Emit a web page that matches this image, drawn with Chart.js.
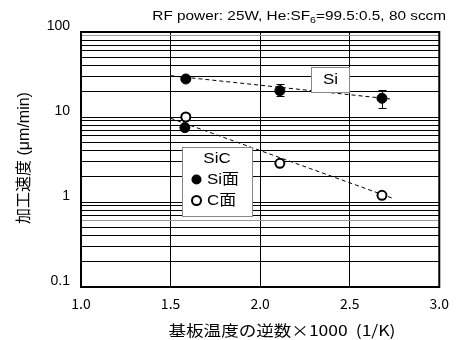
<!DOCTYPE html>
<html>
<head>
<meta charset="utf-8">
<script src="https://cdn.jsdelivr.net/npm/chart.js@4"></script>
<style>
  html, body { margin: 0; padding: 0; background: #fff; }
  #wrap { width: 457px; height: 340px; position: relative; }
</style>
</head>
<body>
<div id="wrap"><canvas id="chart-etch"></canvas></div>
<script>
// --- data ---
const siTemp = [1.585, 2.11, 2.68];
const siRate = [28, 20.4, 16.6];
const siErrHigh = [null, 24.3, 20.8];
const siErrLow = [null, 17.7, 12.8];

const sicSiTemp = [1.58];
const sicSiRate = [7.5];

const sicCTemp = [1.585, 2.11, 2.68];
const sicCRate = [10, 2.85, 1.2];

const siFitTemp = [1.5, 2.725];
const siFitRate = [30.6, 16.3];
const sicFitTemp = [1.5, 2.743];
const sicFitRate = [9.66, 1.1];

const yTickLabels = [0.1, 1, 10, 100];
const xTickLabels = [1.0, 1.5, 2.0, 2.5, 3.0];

const pts = (xs, ys) => xs.map((x, i) => ({ x, y: ys[i] }));

// log minor gridlines 1..9 per decade
const yGrid = [];
[0.1, 1, 10].forEach(d => { for (let m = 1; m <= 9; m++) yGrid.push(d * m); });
yGrid.push(100);

const CJK = '"Noto Sans CJK JP", "Noto Sans", sans-serif';
const LATIN = '"Liberation Sans", Arial, sans-serif';
const MIXED = '"Liberation Sans", "Noto Sans CJK JP", sans-serif';
const SX = 1.13; // reference text is a bit wide

function wideText(ctx, text, x, y, sx) {
  ctx.save();
  ctx.translate(x, y);
  ctx.scale(sx, 1);
  ctx.fillText(text, 0, 0);
  ctx.restore();
}

const overlay = {
  id: 'overlay',
  beforeDatasetsDraw(chart) {
    const { ctx, scales: { x, y } } = chart;
    ctx.save();
    ctx.strokeStyle = '#000';
    ctx.lineWidth = 1;
    siTemp.forEach((t, i) => {
      if (siErrHigh[i] == null) return;
      const px = Math.round(x.getPixelForValue(t)) + 0.5;
      const top = Math.round(y.getPixelForValue(siErrHigh[i])) + 0.5;
      const bot = Math.round(y.getPixelForValue(siErrLow[i])) + 0.5;
      ctx.beginPath();
      ctx.moveTo(px, top); ctx.lineTo(px, bot);
      ctx.moveTo(px - 4, top); ctx.lineTo(px + 4, top);
      ctx.moveTo(px - 4, bot); ctx.lineTo(px + 4, bot);
      ctx.stroke();
    });
    ctx.restore();
  },
  afterDatasetsDraw(chart) {
    const { ctx } = chart;
    ctx.save();
    // "Si" label box
    ctx.fillStyle = '#fff';
    ctx.strokeStyle = '#888';
    ctx.lineWidth = 1;
    ctx.fillRect(311.5, 67.5, 38, 25);
    ctx.strokeRect(311.5, 67.5, 38, 25);
    ctx.fillStyle = '#000';
    ctx.font = '15px ' + LATIN;
    ctx.textAlign = 'center';
    ctx.textBaseline = 'middle';
    wideText(ctx, 'Si', 330.5, 80, SX);

    // SiC legend box
    ctx.fillStyle = '#fff';
    ctx.fillRect(182.5, 147.5, 70, 69);
    ctx.strokeRect(182.5, 147.5, 70, 69);
    ctx.fillStyle = '#000';
    wideText(ctx, 'SiC', 217, 158.5, SX);
    ctx.beginPath();
    ctx.arc(196.5, 179.5, 5, 0, Math.PI * 2);
    ctx.fill();
    ctx.beginPath();
    ctx.arc(196.5, 200.5, 4.5, 0, Math.PI * 2);
    ctx.fillStyle = '#fff';
    ctx.fill();
    ctx.lineWidth = 2;
    ctx.strokeStyle = '#000';
    ctx.stroke();
    ctx.fillStyle = '#000';
    ctx.textAlign = 'left';
    ctx.font = '15px ' + MIXED;
    wideText(ctx, 'Si面', 207, 180, SX);
    wideText(ctx, 'C面', 207, 201, SX);
    ctx.restore();
  },
  afterDraw(chart) {
    const { ctx, chartArea: a } = chart;
    ctx.save();
    ctx.strokeStyle = '#000';
    ctx.lineWidth = 2;
    ctx.strokeRect(a.left, a.top, a.right - a.left, a.bottom - a.top);

    // header text with subscript
    ctx.fillStyle = '#000';
    ctx.textBaseline = 'alphabetic';
    ctx.textAlign = 'left';
    const hs = 1.18;
    const big = '13px ' + LATIN, small = '9px ' + LATIN;
    const p1 = 'RF power: 25W, He:SF', sub = '6', p2 = '=99.5:0.5, 80 sccm';
    ctx.font = big; const w1 = ctx.measureText(p1).width * hs, w3 = ctx.measureText(p2).width * hs;
    ctx.font = small; const w2 = ctx.measureText(sub).width * hs;
    const sx = 446 - (w1 + w2 + w3);
    ctx.font = big; wideText(ctx, p1, sx, 20, hs);
    ctx.font = small; wideText(ctx, sub, sx + w1, 23, hs);
    ctx.font = big; wideText(ctx, p2, sx + w1 + w2, 20, hs);

    // axis titles
    ctx.font = '15px ' + CJK;
    ctx.textAlign = 'center';
    ctx.textBaseline = 'middle';
    wideText(ctx, '基板温度の逆数×1000  (1/K)', 282, 330, 1.17);
    ctx.font = '16px ' + MIXED;
    ctx.translate(25, 158);
    ctx.rotate(-Math.PI / 2);
    ctx.fillText('加工速度 (μm/min)', 0, 0);
    ctx.restore();
  }
};

new Chart(document.getElementById('chart-etch'), {
  type: 'scatter',
  data: {
    datasets: [
      {
        label: 'Si',
        data: pts(siTemp, siRate),
        backgroundColor: '#000', borderColor: '#000',
        pointRadius: 5, pointHoverRadius: 5, order: 0
      },
      {
        label: 'SiC Si面',
        data: pts(sicSiTemp, sicSiRate),
        backgroundColor: '#000', borderColor: '#000',
        pointRadius: 5, pointHoverRadius: 5, order: 0
      },
      {
        label: 'SiC C面',
        data: pts(sicCTemp, sicCRate),
        backgroundColor: '#fff', borderColor: '#000', borderWidth: 2,
        pointRadius: 4.5, pointHoverRadius: 4.5, order: 0
      },
      {
        label: 'Si fit',
        data: pts(siFitTemp, siFitRate),
        showLine: true, borderColor: '#000', borderWidth: 1,
        borderDash: [4, 3], pointRadius: 0, order: 1
      },
      {
        label: 'SiC fit',
        data: pts(sicFitTemp, sicFitRate),
        showLine: true, borderColor: '#000', borderWidth: 1,
        borderDash: [4, 3], pointRadius: 0, order: 1
      }
    ]
  },
  options: {
    responsive: true,
    maintainAspectRatio: false,
    animation: false,
    layout: { padding: { top: 32, right: 10, left: 0, bottom: 0 } },
    plugins: { legend: { display: false }, tooltip: { enabled: false }, title: { display: false } },
    scales: {
      x: {
        type: 'linear', min: 1, max: 3,
        afterBuildTicks: s => { s.ticks = xTickLabels.map(v => ({ value: v })); },
        afterFit: s => { s.height = 53; },
        grid: { color: '#000', lineWidth: 1, drawTicks: false },
        border: { display: false },
        ticks: {
          color: '#000', padding: 8,
          font: { family: CJK, size: 14 },
          callback: v => v.toFixed(1)
        }
      },
      y: {
        type: 'logarithmic', min: 0.1, max: 100,
        afterBuildTicks: s => { s.ticks = yGrid.map(v => ({ value: v })); },
        afterFit: s => { s.width = 81; },
        grid: {
          lineWidth: 1, drawTicks: false,
          // two minor lines render grey in the reference
          color: c => (c.tick && (Math.abs(c.tick.value - 90) < 1e-6 || Math.abs(c.tick.value - 0.6) < 1e-6)) ? '#999' : '#000'
        },
        border: { display: false },
        ticks: {
          color: '#000', padding: 11, labelOffset: -6, autoSkip: false,
          font: { family: LATIN, size: 14 },
          callback: v => yTickLabels.includes(v) ? String(v) : ''
        }
      }
    }
  },
  plugins: [overlay]
});
</script>
</body>
</html>
